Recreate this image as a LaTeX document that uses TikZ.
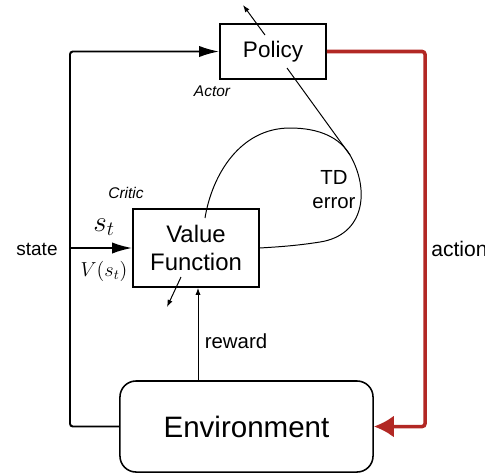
\documentclass[tikz,border=0pt]{standalone}
\usepackage{fontspec}
\setmainfont{Liberation Sans}
\usetikzlibrary{arrows.meta}
\definecolor{actred}{RGB}{178,40,36}
\tikzset{box/.style={draw,line width=1.1pt,inner sep=0pt,align=center},
 flow/.style={line width=1.4pt,rounded corners=2pt},
 thin/.style={line width=0.7pt},
 lbl/.style={inner sep=0pt},
 bigtip/.style={-{Latex[length=5mm,width=2.8mm]}},
 smalltip/.style={-{Latex[length=1.8mm,width=1.3mm]}}}

\begin{document}
\begin{tikzpicture}[x=0.025cm,y=-0.025cm]
\useasboundingbox (0,0) rectangle (485,475);
% boxes
\node[box,minimum width=2.65cm,minimum height=1.375cm,font=\fontsize{16}{18}\selectfont] (policy) at (273,51.5) {Policy};
\node[box,minimum width=3.15cm,minimum height=1.95cm,font=\fontsize{17}{20}\selectfont] (value) at (196,248) {Value\\Function};
\node[box,rounded corners=0.4cm,minimum width=6.325cm,minimum height=2.275cm,font=\fontsize{21}{24}\selectfont] (env) at (246.5,426.5) {Environment};
% labels
\node[lbl,font=\itshape\fontsize{11}{13}\selectfont] (actor) at (212,91) {Actor};
\node[lbl,font=\itshape\fontsize{11}{13}\selectfont] (critic) at (126,193) {Critic};
\node[lbl,align=center,font=\fontsize{14.5}{17}\selectfont] (td) at (334,190) {TD\\error};
\node[lbl,font=\fontsize{13.5}{16}\selectfont] (state) at (37,249) {state};
\node[lbl,font=\fontsize{20}{22}\selectfont] (st) at (104,227) {$s_t$};
\node[lbl,font=\fontsize{14}{16}\selectfont] (vst) at (104,271) {$V(s_t)$};
\node[lbl,font=\fontsize{14.5}{17}\selectfont] (reward) at (236,341) {reward};
\node[lbl,anchor=west,font=\fontsize{15}{18}\selectfont] (action) at (431,249) {action};
% helper points
\coordinate (split) at (70,248);
\coordinate (acorner) at (425,51.5);
\coordinate (rw) at (198,0);
\coordinate (pa) at (265,35);
\coordinate (pb) at (243,5);
\coordinate (va) at (181,277);
\coordinate (vb) at (167,307);
\coordinate (tdin) at (287,68);
\coordinate (tdjoin) at (350,155);
\coordinate (tdstart) at (205,218);
% state loop
\draw[flow,bigtip] (env.west) -| (split) |- (policy.west);
\draw[flow,bigtip] (split) -- (value.west);
% action
\draw[line width=2.5pt,actred,rounded corners=2pt,-{Latex[length=5mm,width=5.5mm]}] (policy.east) -| (acorner |- env.east) -- (env.east);
% reward
\draw[thin,smalltip] (env.north -| rw) -- (value.south -| rw);
% actor and critic outputs
\draw[thin,smalltip] (pa) -- (pb);
\draw[thin,smalltip] (va) -- (vb);
% TD error
\draw[thin] (tdstart) .. controls (212,175) and (240,128) .. (290,128)
  .. controls (320,128) and (340,138) .. (tdjoin)
  .. controls (370,190) and (365,235) .. (320,242)
  .. controls (295,246) and (275,247) .. (value.east);
\draw[thin] (tdin) -- (tdjoin);
\end{tikzpicture}
\end{document}
